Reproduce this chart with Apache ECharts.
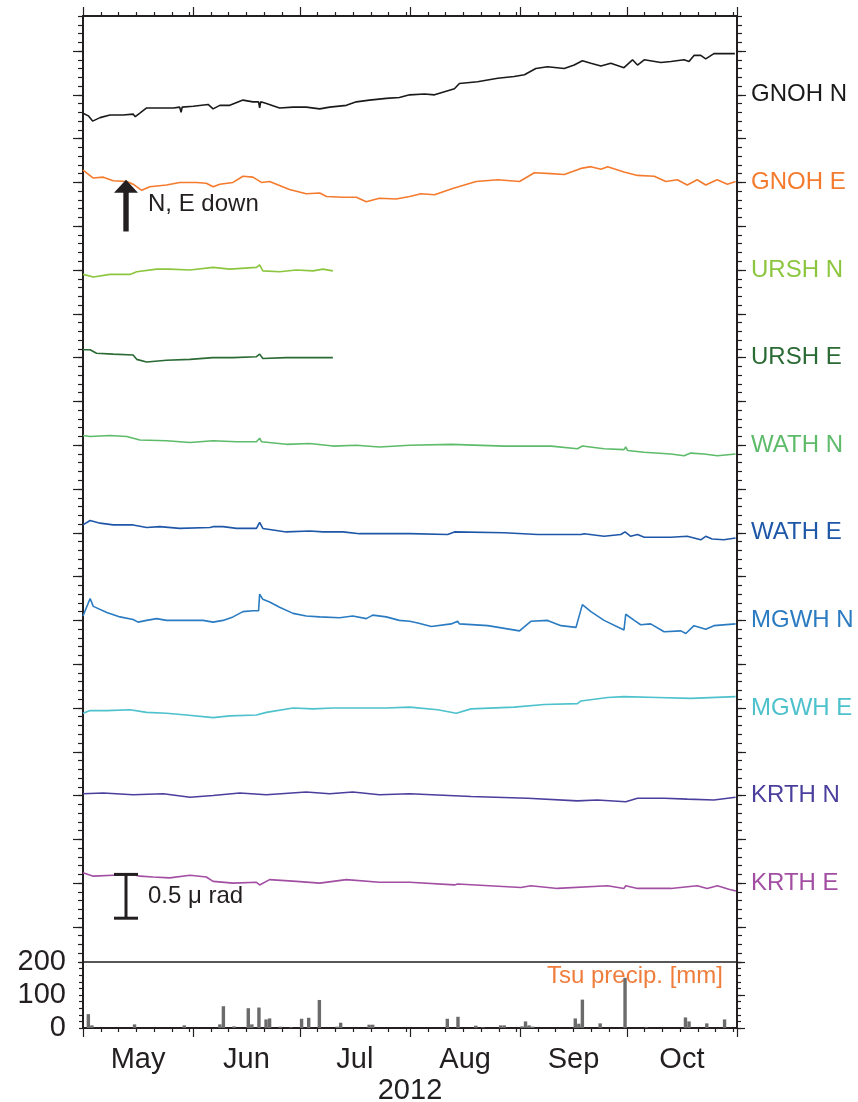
<!DOCTYPE html>
<html>
<head>
<meta charset="utf-8">
<script src="https://cdn.jsdelivr.net/npm/echarts@6/dist/echarts.min.js"></script>
<style>
  html, body { margin: 0; padding: 0; background: #fff; }
  #chart { width: 858px; height: 1102px; }
</style>
</head>
<body>
<div id="chart"></div>
<script>
// x = days since 2012-05-01 (0) ... 2012-11-01 (184)
const monthNames = ["May", "Jun", "Jul", "Aug", "Sep", "Oct"];
const monthStarts = [0, 31, 61, 92, 123, 153, 184];

// stacked tilt traces, [day, µrad on the stacked axis]
const stationNames = ["GNOH N", "GNOH E", "URSH N", "URSH E", "WATH N", "WATH E", "MGWH N", "MGWH E", "KRTH N", "KRTH E"];
const stationLevels = [9.9, 8.9, 7.9, 6.9, 5.9, 4.9, 3.9, 2.9, 1.9, 0.9];
const stationColors = ["#1a1a1a", "#f47b2e", "#8cc63f", "#2a6a34", "#5dbb6a", "#1f57a8", "#2a7bc1", "#4dc1cc", "#4b3f9d", "#a24ea2"];

const gnohN = [[0,9.69],[1.5,9.66],[2.7,9.60],[4.8,9.64],[7.6,9.67],[11.3,9.67],[14.1,9.68],[14.7,9.65],[16,9.69],[17.9,9.75],[20.7,9.75],[25.4,9.75],[27.2,9.76],[27.6,9.70],[27.9,9.76],[31,9.77],[35.2,9.79],[36.6,9.74],[38.5,9.78],[41.3,9.78],[45,9.84],[47.8,9.82],[49.4,9.82],[49.7,9.75],[50,9.82],[51.6,9.80],[55.3,9.75],[59.1,9.76],[62.8,9.76],[66.6,9.74],[69.4,9.76],[74.1,9.78],[76.9,9.82],[80.6,9.84],[85.3,9.86],[89,9.87],[91.9,9.90],[96.1,9.91],[98.9,9.90],[104.5,9.97],[105.9,10.03],[111,10.05],[116.7,10.09],[121.3,10.11],[124.2,10.13],[127.4,10.20],[130.7,10.22],[135.4,10.20],[138.2,10.24],[140.5,10.29],[142.9,10.26],[145.7,10.23],[148.5,10.26],[152.2,10.21],[154.6,10.30],[156,10.24],[157.9,10.30],[162.6,10.27],[165.4,10.28],[169.1,10.30],[170.5,10.28],[171.9,10.35],[173.8,10.35],[175.2,10.31],[177.5,10.37],[180.3,10.37],[183.4,10.37]];
const gnohE = [[0,9.04],[2.9,8.95],[5.7,8.96],[8.5,8.92],[12.3,8.91],[14.1,8.88],[16.5,8.81],[18.8,8.85],[23.5,8.87],[27.2,8.90],[31.9,8.90],[34.7,8.89],[36.6,8.85],[38.5,8.88],[42.2,8.90],[45,8.97],[47.8,8.96],[50.2,8.90],[52.5,8.91],[58.1,8.82],[62.8,8.77],[66.6,8.78],[68.5,8.74],[73.1,8.73],[76.9,8.73],[79.7,8.68],[83.4,8.72],[88.1,8.71],[91.9,8.74],[95.1,8.77],[98.9,8.76],[104,8.83],[107.3,8.87],[110.6,8.91],[116.7,8.93],[122.8,8.91],[127,9.01],[131.7,9.00],[135.4,8.99],[140.1,9.06],[142.9,9.08],[145.7,9.05],[147.6,9.08],[152.2,9.02],[156,8.98],[160.7,8.97],[164,8.91],[167.2,8.93],[170,8.87],[172.8,8.93],[175.2,8.87],[178.4,8.93],[181.3,8.88],[183.6,8.91]];
const urshN = [[0,7.85],[2.9,7.82],[7.6,7.85],[13.2,7.85],[15.1,7.88],[20.7,7.91],[24.4,7.91],[30.1,7.90],[36.6,7.93],[41.3,7.91],[48.8,7.93],[49.7,7.96],[50.6,7.89],[55.3,7.88],[60,7.90],[64.7,7.89],[67.5,7.91],[70.3,7.89]];
const urshE = [[0,6.99],[2,6.99],[3.8,6.95],[8.5,6.94],[14.1,6.93],[15.1,6.88],[17.9,6.85],[23.5,6.87],[30.1,6.88],[36.6,6.90],[42.2,6.90],[48.8,6.91],[49.7,6.94],[50.6,6.89],[57.2,6.90],[64.7,6.90],[70.3,6.90]];
const wathN = [[0,6.01],[2,6.00],[7.6,6.01],[12.3,6.00],[16,5.96],[23.5,5.95],[30.1,5.93],[36.6,5.95],[43.2,5.94],[48.8,5.94],[49.7,5.98],[50.2,5.94],[57.2,5.91],[63.8,5.92],[70.3,5.89],[76.9,5.90],[83.4,5.88],[91.9,5.90],[103.6,5.91],[118.5,5.89],[131.7,5.89],[139.1,5.86],[140.5,5.89],[146.6,5.86],[152.2,5.85],[152.7,5.88],[153.2,5.84],[157.9,5.82],[165.4,5.80],[169.1,5.78],[171,5.81],[174.7,5.80],[178.5,5.78],[183.6,5.80]];
const wathE = [[0,4.99],[2,5.04],[4.8,5.01],[8.5,4.99],[14.1,4.99],[17.9,4.96],[21.6,4.97],[27.2,4.95],[35.7,4.96],[36.6,4.97],[39.4,4.97],[43.2,4.95],[48.8,4.95],[49.7,5.02],[50.6,4.95],[57.2,4.91],[63.8,4.92],[67.5,4.91],[73.1,4.91],[77.8,4.89],[86.2,4.89],[91.9,4.89],[102.6,4.88],[104.5,4.91],[118.5,4.90],[127.9,4.88],[140.1,4.88],[141,4.89],[146.6,4.86],[151.3,4.88],[152.5,4.91],[154.1,4.86],[156,4.88],[157.9,4.85],[165.4,4.85],[170,4.86],[173.8,4.82],[175.2,4.86],[177,4.83],[180.3,4.82],[183.6,4.84]];
const mgwhN = [[0,3.95],[0.6,4.01],[2,4.15],[2.9,4.06],[6.7,3.99],[10.4,3.94],[14.1,3.91],[15.5,3.88],[17.9,3.90],[20.7,3.92],[23.5,3.90],[29.1,3.90],[33.8,3.90],[36.6,3.88],[39.4,3.90],[42.2,3.94],[45,4.00],[47.8,4.01],[49.4,4.01],[49.7,4.20],[50.6,4.14],[52.5,4.11],[55.3,4.05],[59.1,3.98],[62.8,3.95],[66.6,3.94],[72.2,3.93],[75.9,3.95],[79.7,3.92],[81.5,3.96],[85.3,3.94],[89,3.90],[91.9,3.89],[94.2,3.87],[98,3.83],[103.6,3.86],[105.4,3.89],[105.9,3.86],[113.9,3.84],[122.8,3.78],[126,3.89],[130.7,3.90],[134.5,3.84],[138.7,3.82],[140.5,4.08],[142.9,4.00],[146.6,3.90],[152.2,3.79],[152.7,3.97],[155.1,3.90],[156.9,3.85],[159.7,3.86],[163.5,3.77],[168.2,3.78],[169.6,3.75],[171.9,3.84],[175.2,3.80],[177.5,3.84],[183.6,3.86]];
const mgwhE = [[0,2.84],[2,2.87],[6.7,2.87],[13.2,2.88],[17.9,2.85],[23.5,2.84],[29.1,2.82],[36.6,2.79],[41.3,2.81],[48.8,2.82],[51.6,2.85],[59.1,2.90],[64.7,2.89],[70.3,2.90],[77.8,2.90],[85.3,2.90],[91.9,2.91],[99.8,2.88],[105,2.84],[109.2,2.89],[121.3,2.91],[129.8,2.94],[139.1,2.95],[140.1,2.98],[147.6,3.02],[152.2,3.03],[161.6,3.02],[171,3.01],[183.6,3.03]];
const krthN = [[0,1.92],[5.7,1.93],[14.1,1.91],[22.6,1.92],[30.1,1.88],[36.6,1.90],[44.1,1.93],[51.6,1.91],[62.8,1.94],[69.4,1.92],[75.9,1.94],[83.4,1.91],[91.9,1.92],[109.2,1.89],[125.1,1.87],[139.1,1.84],[144.7,1.85],[152.7,1.83],[156,1.87],[163.5,1.87],[170,1.86],[177.5,1.85],[183.6,1.88]];
const krthE = [[0,1.02],[2.9,0.98],[8.5,0.99],[14.1,1.00],[16,0.98],[19.7,0.97],[24.4,0.96],[30.1,0.99],[34.7,0.97],[36.6,0.92],[42.2,0.90],[48.8,0.91],[49.7,0.88],[52.5,0.94],[60,0.92],[66.6,0.90],[74.1,0.94],[83.4,0.91],[91.9,0.91],[104.5,0.88],[105.4,0.89],[123.2,0.85],[126,0.87],[133.5,0.84],[147.6,0.87],[152.2,0.84],[152.7,0.87],[156,0.84],[165.4,0.84],[172.8,0.87],[175.6,0.84],[178.5,0.87],[181.7,0.83],[183.7,0.81]];
const traces = [gnohN, gnohE, urshN, urshE, wathN, wathE, mgwhN, mgwhE, krthN, krthE];

// Tsu daily precipitation [mm]
const precipDays = [1, 2, 14, 28, 38, 39, 42, 46, 47, 49, 51, 52, 55, 58, 61, 63, 66, 71, 72, 80, 81, 102, 105, 110, 112, 117, 118, 123, 124, 125, 126, 138, 139, 140, 145, 152, 158, 169, 170, 175, 180];
const precipMm = [42, 8, 11, 8, 11, 66, 5, 60, 11, 62, 26, 29, 4, 2, 28, 31, 85, 4, 16, 10, 10, 28, 34, 7, 2, 8, 8, 5, 20, 8, 4, 29, 13, 86, 14, 152, 2, 32, 20, 14, 26];

// annotations (in axis units)
const arrowMark = { day: 12.1, from: 8.34, to: 8.93 };
const scaleBar = { day: 12.1, from: 0.5, to: 1.0 };

const FONT = '"Liberation Sans", Arial, Helvetica, sans-serif';
const INK = "#231f20";

// tick positions
let minorDays = [];
for (let m = 0; m < 6; m++) {
  let len = monthStarts[m + 1] - monthStarts[m];
  for (let k = 5; k < len; k += 5) minorDays.push(monthStarts[m] + k);
}
let monthMids = monthNames.map((n, i) => (monthStarts[i] + monthStarts[i + 1]) / 2);
let majorTilt = [];
for (let v = 0.4; v < 10.8; v += 0.5) majorTilt.push(Math.round(v * 10) / 10);

let chart = echarts.init(document.getElementById("chart"));

function xAx(grid, pos, o) {
  return Object.assign({
    type: "value", gridIndex: grid, position: pos, min: 0, max: 184,
    splitLine: { show: false }, axisLabel: { show: false },
    axisTick: { show: false }, axisLine: { show: false, onZero: false }
  }, o);
}
function yAx(grid, pos, max, o) {
  return Object.assign({
    type: "value", gridIndex: grid, position: pos, min: 0, max: max,
    splitLine: { show: false }, axisLabel: { show: false },
    axisTick: { show: false }, axisLine: { show: false, onZero: false }
  }, o);
}
let line2 = { show: true, onZero: false, lineStyle: { color: INK, width: 2 } };
let tick = (len, vals) => ({ show: true, inside: false, length: len, customValues: vals, lineStyle: { color: INK, width: 1.2 } });

let rich = {};
stationColors.forEach((c, i) => { rich["c" + i] = { color: c, fontSize: 24, fontFamily: FONT }; });

let lineSeries = traces.map((d, i) => ({
  name: stationNames[i],
  type: "line",
  xAxisIndex: 0,
  yAxisIndex: 0,
  data: d,
  showSymbol: false,
  symbol: "none",
  lineStyle: { color: stationColors[i], width: 1.6 },
  z: 3
}));

chart.setOption({
  animation: false,
  backgroundColor: "#fff",
  grid: [
    { left: 83, top: 16, width: 654, height: 946, outerBoundsMode: "none", containLabel: false },
    { left: 83, top: 962, width: 654, height: 66, outerBoundsMode: "none", containLabel: false }
  ],
  xAxis: [
    xAx(0, "top", { axisLine: line2, axisTick: tick(4, minorDays) }),
    xAx(0, "top", { axisTick: tick(9, monthStarts) }),
    xAx(0, "bottom", { axisLine: { show: true, onZero: false, lineStyle: { color: INK, width: 1.5 } } }),
    xAx(1, "bottom", { axisLine: line2, axisTick: tick(4, minorDays) }),
    xAx(1, "bottom", { axisTick: tick(9, monthStarts) }),
    xAx(1, "bottom", {
      axisLabel: { show: true, customValues: monthMids, formatter: (v) => monthNames[monthMids.indexOf(v)] || "",
        color: INK, fontSize: 29, fontFamily: FONT, margin: 17 },
      name: "2012", nameLocation: "middle", nameGap: 48,
      nameTextStyle: { color: INK, fontSize: 29, fontFamily: FONT, verticalAlign: "top" }
    })
  ],
  yAxis: [
    yAx(0, "left", 10.8, { interval: 0.1, axisLine: line2, axisTick: { show: true, length: 5, lineStyle: { color: INK, width: 1.2 } } }),
    yAx(0, "left", 10.8, { axisTick: tick(10, majorTilt) }),
    yAx(0, "right", 10.8, { interval: 0.1, axisLine: line2, axisTick: { show: true, length: 5, lineStyle: { color: INK, width: 1.2 } } }),
    yAx(0, "right", 10.8, { axisTick: tick(9, majorTilt) }),
    yAx(0, "right", 10.8, {
      axisLabel: { show: true, customValues: stationLevels, margin: 14,
        formatter: (v) => {
          let i = stationLevels.findIndex((s) => Math.abs(s - v) < 0.01);
          return i < 0 ? "" : "{c" + i + "|" + stationNames[i] + "}";
        },
        rich: rich }
    }),
    yAx(1, "left", 200, { interval: 20, axisLine: line2,
      axisTick: { show: true, length: 4, lineStyle: { color: INK, width: 1.2 } },
      axisLabel: { show: true, margin: 17, color: INK, fontSize: 29, fontFamily: FONT,
        formatter: (v) => (v % 100 === 0 ? String(v) : "") } }),
    yAx(1, "right", 200, { interval: 20, axisLine: line2,
      axisTick: { show: true, length: 4, lineStyle: { color: INK, width: 1.2 } } }),
    yAx(1, "right", 200, { axisTick: tick(8, [0, 100, 200]) })
  ],
  graphic: [
    { type: "text", right: 135, top: 964,
      style: { text: "Tsu precip. [mm]", font: "24px " + FONT, fill: "#ef7d3c" } }
  ],
  series: lineSeries.concat([
    {
      type: "bar",
      xAxisIndex: 3,
      yAxisIndex: 5,
      data: precipDays.map((d, i) => [d + 0.5, precipMm[i]]),
      barWidth: 3.4,
      itemStyle: { color: "#6b6b6b" }
    },
    {
      type: "custom",
      xAxisIndex: 0,
      yAxisIndex: 0,
      silent: true,
      data: [[arrowMark.day, arrowMark.to]],
      renderItem: function (params, api) {
        let tip = api.coord([arrowMark.day, arrowMark.to]);
        let tail = api.coord([arrowMark.day, arrowMark.from]);
        let sTop = api.coord([scaleBar.day, scaleBar.to]);
        let sBot = api.coord([scaleBar.day, scaleBar.from]);
        let ink = { fill: INK };
        return {
          type: "group",
          children: [
            { type: "polygon", shape: { points: [[tip[0], tip[1]], [tip[0] - 12, tip[1] + 13], [tip[0] + 12, tip[1] + 13]] }, style: ink },
            { type: "rect", shape: { x: tip[0] - 2.7, y: tip[1] + 10, width: 5.4, height: tail[1] - tip[1] - 10 }, style: ink },
            { type: "text", x: tip[0] + 22, y: tip[1] + 25,
              style: { text: "N, E down", font: "24px " + FONT, fill: INK, align: "left", verticalAlign: "middle", textAlign: "left", textVerticalAlign: "middle" } },
            { type: "line", shape: { x1: sTop[0], y1: sTop[1], x2: sBot[0], y2: sBot[1] }, style: { stroke: INK, lineWidth: 3 } },
            { type: "line", shape: { x1: sTop[0] - 12, y1: sTop[1], x2: sTop[0] + 12, y2: sTop[1] }, style: { stroke: INK, lineWidth: 3 } },
            { type: "line", shape: { x1: sBot[0] - 12, y1: sBot[1], x2: sBot[0] + 12, y2: sBot[1] }, style: { stroke: INK, lineWidth: 3 } },
            { type: "text", x: sTop[0] + 22, y: (sTop[1] + sBot[1]) / 2,
              style: { text: "0.5 \u03bc rad", font: "24px " + FONT, fill: INK, align: "left", verticalAlign: "middle", textAlign: "left", textVerticalAlign: "middle" } }
          ]
        };
      },
      z: 5
    }
  ])
});
</script>
</body>
</html>
